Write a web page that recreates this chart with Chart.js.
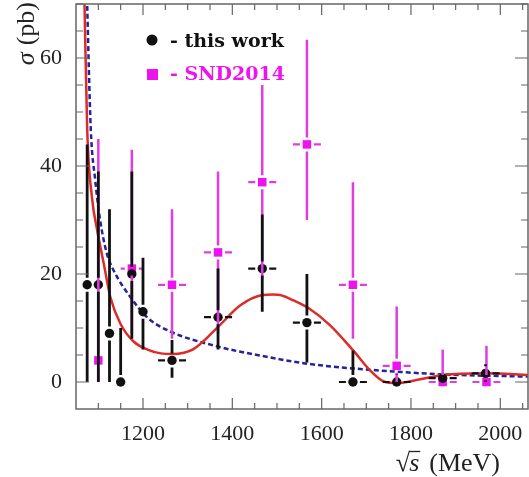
<!DOCTYPE html>
<html>
<head>
<meta charset="utf-8">
<script src="https://cdn.jsdelivr.net/npm/chart.js@4.4.1/dist/chart.umd.min.js"></script>
<style>
    html, body { margin: 0; padding: 0; background: #fff; }
</style>
</head>
<body>
<canvas id="chart" width="529" height="477"></canvas>
<script>
// Axis ticks
const xTickLabels = [1200, 1400, 1600, 1800, 2000];
const yTickLabels = [0, 20, 40, 60];

// "this work" points (black circles)
const workE = [1075, 1100, 1125, 1150, 1175, 1200, 1265, 1368, 1467, 1567, 1670, 1768, 1871, 1967];
const workSigma = [18, 18, 9, 0, 20, 13, 4, 12, 21, 11, 0, 0, 0.7, 1.6];
const workErrUp = [26, 21, 23, 10, 19, 10, 3.8, 9, 10, 9, 5.8, 1.4, 1.3, 1.7];
const workErrDown = [18, 18, 9, 0, 12, 7, 3.2, 6, 8, 7.4, 0, 0, 0.7, 1.6];
const workErrE = [0, 0, 0, 0, 0, 0, 37, 37, 37, 37, 37, 37, 37, 37];

// SND2014 points (magenta squares)
const sndE = [1100, 1175, 1265, 1368, 1467, 1567, 1670, 1768, 1871, 1969];
const sndSigma = [4, 21, 18, 24, 37, 44, 18, 3, 0, 0];
const sndErrUp = [41, 22, 14, 15, 18, 19.4, 19, 11, 6, 6.7];
const sndErrDown = [4, 12, 10, 15, 18, 14, 10, 3, 0, 0];
const sndErrE = [10, 25, 37, 37, 37, 37, 37, 37, 37, 37];

// Fit curves
const redE = [1066, 1069, 1075, 1086, 1097, 1112, 1127, 1150, 1179, 1210, 1240, 1266, 1313, 1368, 1418, 1468, 1492, 1507, 1537, 1572, 1619, 1671, 1709, 1739, 1769, 1821, 1872, 1968, 2062];
const redSigma = [80, 70, 47, 34, 28.3, 22, 15.7, 10.7, 7.5, 6, 5.3, 5.2, 6.1, 10.2, 14.2, 16.1, 16.2, 16.1, 15.1, 13.6, 10.5, 5.8, 2.1, 0.1, -0.2, 0.5, 1.3, 1.6, 1.3];
const blueE = [1072, 1075, 1083, 1093, 1104, 1119, 1134, 1172, 1209, 1257, 1366, 1468, 1567, 1672, 1769, 1872, 2062];
const blueSigma = [80, 70, 47, 37.4, 30, 23.8, 20.7, 15.7, 12, 9.5, 6.6, 4.8, 3.4, 2.5, 1.9, 1.4, 1.0];

const COLORS = {
    work: '#111111',
    snd: '#ee12ee',
    sndBar: '#e03ce0',
    red: '#dd2a2a',
    blue: '#23239c',
    frame: '#666666',
    text: '#222222'
};
const SERIF = "'Liberation Serif', 'DejaVu Serif', serif";

const toXY = (xs, ys) => xs.map((x, i) => ({ x: x, y: ys[i] }));

function drawErrorBars(ctx, xs, ys, up, down, ex, sx, sy, color, lw, gap) {
    ctx.save();
    ctx.strokeStyle = color;
    for (let i = 0; i < xs.length; i++) {
        const px = sx.getPixelForValue(xs[i]);
        const py = sy.getPixelForValue(ys[i]);
        const top = sy.getPixelForValue(ys[i] + up[i]);
        const bot = sy.getPixelForValue(ys[i] - down[i]);
        ctx.lineWidth = lw;
        ctx.setLineDash([]);
        ctx.beginPath();
        if (py - top > gap) { ctx.moveTo(px, top); ctx.lineTo(px, py - gap); }
        if (bot - py > gap) { ctx.moveTo(px, py + gap); ctx.lineTo(px, bot); }
        ctx.stroke();
        if (ex[i] > 0) {
            const l = sx.getPixelForValue(xs[i] - ex[i]);
            const r = sx.getPixelForValue(xs[i] + ex[i]);
            ctx.lineWidth = 2.2;
            ctx.setLineDash([7, 4]);
            ctx.beginPath();
            if (px - l > gap) { ctx.moveTo(px - gap, py); ctx.lineTo(l, py); }
            if (r - px > gap) { ctx.moveTo(px + gap, py); ctx.lineTo(r, py); }
            ctx.stroke();
        }
    }
    ctx.restore();
}

const decorPlugin = {
    id: 'decor',
    afterDatasetsDraw(chart) {
        const { ctx, scales } = chart;
        const sx = scales.x, sy = scales.y;
        ctx.save();
        ctx.beginPath();
        ctx.rect(chart.chartArea.left, chart.chartArea.top, chart.chartArea.width, chart.chartArea.height);
        ctx.clip();
        drawErrorBars(ctx, sndE, sndSigma, sndErrUp, sndErrDown, sndErrE, sx, sy, COLORS.sndBar, 2.5, 7);
        drawErrorBars(ctx, workE, workSigma, workErrUp, workErrDown, workErrE, sx, sy, COLORS.work, 2.8, 7);
        ctx.restore();
    },
    afterDraw(chart) {
        const { ctx, chartArea: a, scales } = chart;
        const sx = scales.x, sy = scales.y;
        ctx.save();

        // frame
        ctx.strokeStyle = COLORS.frame;
        ctx.lineWidth = 1.5;
        ctx.setLineDash([]);
        ctx.strokeRect(a.left, a.top, a.right - a.left, a.bottom - a.top);

        // inward ticks
        ctx.lineWidth = 1.2;
        ctx.beginPath();
        for (let v = 1100; v <= 2050; v += 50) {
            const px = sx.getPixelForValue(v);
            const len = v % 200 === 0 ? 11 : 6;
            ctx.moveTo(px, a.bottom); ctx.lineTo(px, a.bottom - len);
            ctx.moveTo(px, a.top); ctx.lineTo(px, a.top + len);
        }
        for (let v = 0; v <= 70; v += 5) {
            const py = sy.getPixelForValue(v);
            const len = v % 20 === 0 ? 13 : 7;
            ctx.moveTo(a.left, py); ctx.lineTo(a.left + len, py);
            ctx.moveTo(a.right, py); ctx.lineTo(a.right - len, py);
        }
        ctx.stroke();

        // legend
        ctx.fillStyle = COLORS.work;
        ctx.beginPath();
        ctx.arc(152, 40, 5.5, 0, Math.PI * 2);
        ctx.fill();
        ctx.fillStyle = COLORS.snd;
        ctx.fillRect(147, 69, 11, 11);
        ctx.font = "bold 19px 'DejaVu Serif', serif";
        ctx.textBaseline = 'alphabetic';
        ctx.textAlign = 'left';
        ctx.fillStyle = COLORS.work;
        ctx.fillText('- this work', 170, 47);
        ctx.fillStyle = COLORS.snd;
        ctx.fillText('- SND2014', 170, 80);

        // y title (rotated)
        ctx.fillStyle = COLORS.text;
        ctx.translate(34, 2);
        ctx.rotate(-Math.PI / 2);
        ctx.textAlign = 'right';
        ctx.font = "26px " + SERIF;
        const pb = '(pb)';
        const wpb = ctx.measureText(pb).width;
        ctx.fillText(pb, 0, 0);
        ctx.font = "italic 26px " + SERIF;
        ctx.fillText('\u03c3', -wpb - 7, 0);
        ctx.setTransform(1, 0, 0, 1, 0, 0);

        // x title
        ctx.textAlign = 'left';
        ctx.font = "26px " + SERIF;
        const mev = '(MeV)';
        const wm = ctx.measureText(mev).width;
        const wr = ctx.measureText('\u221a').width;
        ctx.font = "italic 26px " + SERIF;
        const ws = ctx.measureText('s').width;
        const xEnd = 500, base = 471;
        const xm = xEnd - wm;
        const xs0 = xm - 10 - ws;
        const xr = xs0 - wr + 1;
        ctx.fillText('s', xs0, base);
        ctx.font = "26px " + SERIF;
        ctx.fillText('\u221a', xr, base);
        ctx.fillText(mev, xm, base);
        ctx.strokeStyle = COLORS.text;
        ctx.lineWidth = 1.3;
        ctx.beginPath();
        ctx.moveTo(xr + wr - 1, base - 19.5);
        ctx.lineTo(xs0 + ws + 1, base - 19.5);
        ctx.stroke();

        ctx.restore();
    }
};

const axisFont = { family: SERIF, size: 22 };

const chart = new Chart(document.getElementById('chart').getContext('2d'), {
    type: 'line',
    data: {
        datasets: [
            {
                label: 'this work',
                type: 'scatter',
                data: toXY(workE, workSigma),
                pointStyle: 'circle',
                pointRadius: 4.7,
                backgroundColor: COLORS.work,
                borderColor: COLORS.work,
                borderWidth: 0,
                order: 0
            },
            {
                label: 'SND2014',
                type: 'scatter',
                data: toXY(sndE, sndSigma),
                pointStyle: 'rect',
                pointRadius: 6,
                backgroundColor: COLORS.snd,
                borderColor: COLORS.snd,
                borderWidth: 0,
                order: 1
            },
            {
                label: 'fit',
                data: toXY(redE, redSigma),
                borderColor: COLORS.red,
                borderWidth: 2.5,
                pointRadius: 0,
                fill: false,
                cubicInterpolationMode: 'monotone',
                order: 2
            },
            {
                label: 'fit 2',
                data: toXY(blueE, blueSigma),
                borderColor: COLORS.blue,
                borderWidth: 2.5,
                borderDash: [5, 3],
                pointRadius: 0,
                fill: false,
                cubicInterpolationMode: 'monotone',
                order: 3
            }
        ]
    },
    options: {
        responsive: false,
        animation: false,
        layout: { autoPadding: false, padding: { top: 4, right: 1, left: 0, bottom: 0 } },
        plugins: {
            legend: { display: false },
            tooltip: { enabled: false }
        },
        scales: {
            x: {
                type: 'linear',
                min: 1050,
                max: 2062,
                afterBuildTicks: s => { s.ticks = xTickLabels.map(v => ({ value: v })); },
                afterFit: s => { s.height = 68; s.paddingLeft = 0; s.paddingRight = 0; },
                grid: { display: false, drawTicks: false },
                border: { display: false },
                ticks: {
                    font: axisFont,
                    color: COLORS.text,
                    padding: 12,
                    maxRotation: 0,
                    callback: v => String(v)
                }
            },
            y: {
                min: -5,
                max: 70,
                afterBuildTicks: s => { s.ticks = yTickLabels.map(v => ({ value: v })); },
                afterFit: s => { s.width = 76; s.paddingTop = 0; s.paddingBottom = 0; },
                grid: { display: false, drawTicks: false },
                border: { display: false },
                ticks: {
                    font: axisFont,
                    color: COLORS.text,
                    padding: 14,
                    callback: v => String(v)
                }
            }
        }
    },
    plugins: [decorPlugin]
});
</script>
</body>
</html>
